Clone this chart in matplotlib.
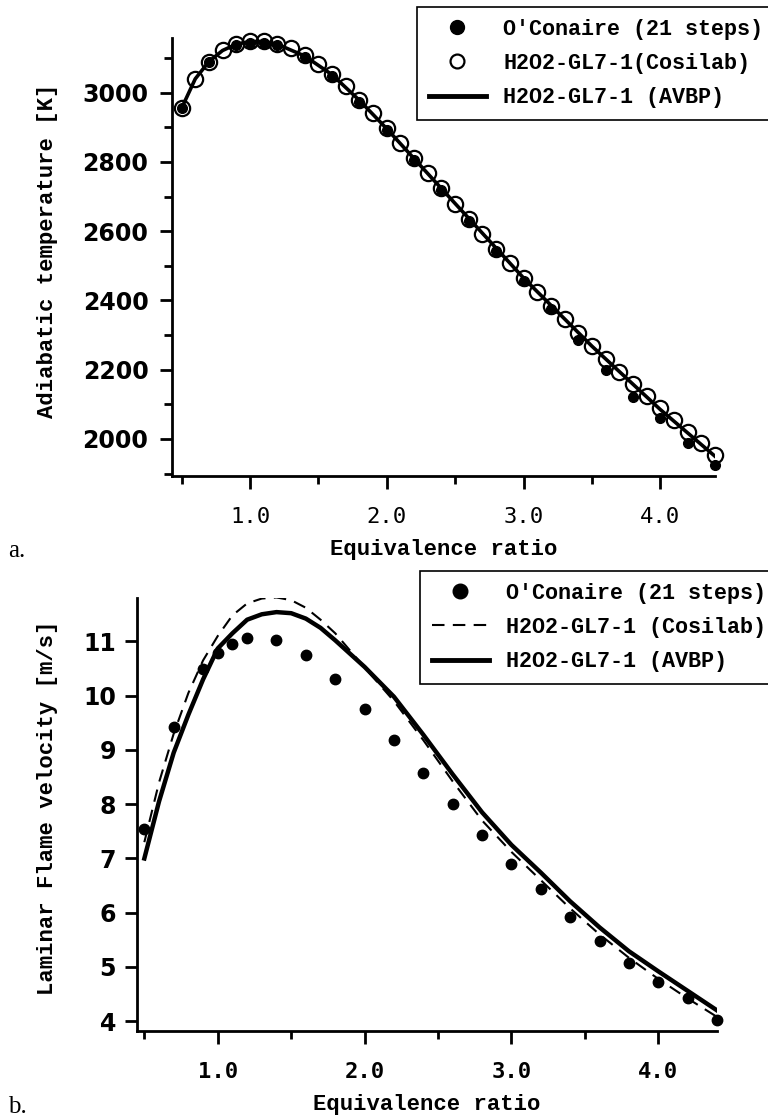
import numpy as np
import matplotlib
matplotlib.use("Agg")
import matplotlib.pyplot as plt
from matplotlib.lines import Line2D
from matplotlib.ticker import MultipleLocator, FormatStrFormatter

# --- panel a : adiabatic temperature ---
phi_cos = [0.5, 0.6, 0.7, 0.8, 0.9, 1.0, 1.1, 1.2, 1.3, 1.4, 1.5, 1.6, 1.7, 1.8, 1.9,
           2.0, 2.1, 2.2, 2.3, 2.4, 2.5, 2.6, 2.7, 2.8, 2.9, 3.0, 3.1, 3.2, 3.3, 3.4,
           3.5, 3.6, 3.7, 3.8, 3.9, 4.0, 4.1, 4.2, 4.3, 4.4]
T_cos = [2955, 3040, 3090, 3122, 3140, 3150, 3150, 3142, 3128, 3108, 3083, 3053, 3018,
         2980, 2940, 2898, 2855, 2812, 2768, 2724, 2680, 2636, 2592, 2549, 2507, 2465,
         2424, 2384, 2345, 2306, 2268, 2231, 2194, 2158, 2123, 2088, 2054, 2020, 1987, 1955]

phi_oc = [0.5, 0.7, 0.9, 1.0, 1.1, 1.2, 1.4, 1.6, 1.8, 2.0, 2.2, 2.4, 2.6, 2.8, 3.0,
          3.2, 3.4, 3.6, 3.8, 4.0, 4.2, 4.4]
T_oc = [2955, 3088, 3138, 3145, 3145, 3138, 3102, 3048, 2972, 2892, 2805, 2718, 2630,
        2542, 2455, 2375, 2285, 2200, 2120, 2060, 1988, 1925]

phi_avbp_T = [0.5, 0.6, 0.7, 0.8, 0.9, 1.0, 1.1, 1.2, 1.4, 1.6, 1.8, 2.0, 2.5, 3.0,
              3.5, 4.0, 4.4]
T_avbp = [2955, 3040, 3090, 3122, 3140, 3148, 3148, 3140, 3106, 3052, 2978, 2896, 2680,
          2465, 2268, 2085, 1950]

# --- panel b : laminar flame speed ---
S_oc = [7.54, 9.43, 10.5, 10.78, 10.96, 11.06, 11.02, 10.75, 10.30, 9.76, 9.18, 8.58,
        8.0, 7.43, 6.90, 6.44, 5.92, 5.48, 5.08, 4.72, 4.42, 4.02]

phi_line = [0.5, 0.6, 0.7, 0.8, 0.9, 1.0, 1.1, 1.2, 1.3, 1.4, 1.5, 1.6, 1.7, 1.8, 2.0,
            2.2, 2.4, 2.6, 2.8, 3.0, 3.2, 3.4, 3.6, 3.8, 4.0, 4.2, 4.4]
S_cos = [7.3, 8.4, 9.3, 10.05, 10.65, 11.1, 11.48, 11.70, 11.79, 11.81, 11.76, 11.62,
         11.40, 11.15, 10.52, 9.90, 9.18, 8.42, 7.70, 7.12, 6.60, 6.08, 5.60, 5.17,
         4.78, 4.42, 4.08]
S_avbp = [7.0, 8.05, 8.95, 9.65, 10.3, 10.87, 11.15, 11.40, 11.50, 11.54, 11.52, 11.42,
          11.25, 11.02, 10.53, 9.98, 9.28, 8.55, 7.85, 7.25, 6.74, 6.21, 5.73, 5.29,
          4.92, 4.56, 4.20]

lab_font = {"family": "Liberation Mono", "weight": "bold", "size": 16}

fig = plt.figure(figsize=(7.68, 11.19), dpi=100)
ax1 = fig.add_axes([172 / 768, 1 - 476 / 1119, 543 / 768, 438 / 1119])
ax2 = fig.add_axes([137 / 768, 1 - 1031 / 1119, 580 / 768, 433 / 1119])

ax1.plot(phi_avbp_T, T_avbp, color="black", lw=2.6, zorder=2)
ax1.plot(phi_oc, T_oc, "o", color="black", ms=7, zorder=3, clip_on=False)
ax1.plot(phi_cos, T_cos, "o", mfc="none", mec="black", mew=1.6, ms=11, zorder=4,
         clip_on=False)
ax1.set_xlim(0.43, 4.4)
ax1.set_ylim(1893, 3158)
ax1.yaxis.set_major_locator(MultipleLocator(200))
ax1.yaxis.set_minor_locator(MultipleLocator(100))

ax2.plot(phi_line, S_cos, color="black", lw=1.5, dashes=(6, 4))
ax2.plot(phi_line, S_avbp, "-", color="black", lw=3.2)
ax2.plot(phi_oc, S_oc, "o", color="black", ms=7.5, clip_on=False)
ax2.set_xlim(0.45, 4.4)
ax2.set_ylim(3.82, 11.8)
ax2.yaxis.set_major_locator(MultipleLocator(1))

for ax, xw, ypad in ((ax1, "normal", 8), (ax2, "bold", 6)):
    for s in ("top", "right"):
        ax.spines[s].set_visible(False)
    for s in ("left", "bottom"):
        ax.spines[s].set_linewidth(2)
    ax.xaxis.set_major_locator(MultipleLocator(1))
    ax.xaxis.set_minor_locator(MultipleLocator(0.5))
    ax.xaxis.set_major_formatter(FormatStrFormatter("%.1f"))
    ax.tick_params(which="major", length=9, width=2, direction="out")
    ax.tick_params(which="minor", length=6, width=2, direction="out")
    ax.tick_params(axis="x", pad=13)
    ax.tick_params(axis="y", pad=ypad)
    for t in ax.get_xticklabels():
        t.set_fontfamily("DejaVu Sans Mono")
        t.set_fontweight(xw)
        t.set_fontsize(16)
    for t in ax.get_yticklabels():
        t.set_fontfamily("DejaVu Sans")
        t.set_fontweight("bold")
        t.set_fontsize(17)
    ax.set_xlabel("Equivalence ratio", fontdict=lab_font, labelpad=9)

ax1.set_ylabel("Adiabatic temperature [K]", fontdict=lab_font)
ax1.yaxis.set_label_coords(-0.21, 0.515)
ax2.set_ylabel("Laminar Flame velocity [m/s]", fontdict=lab_font)
ax2.yaxis.set_label_coords(-0.136, 0.515)

leg_prop = {"family": "Liberation Mono", "weight": "bold", "size": 15.7}
leg_kw = dict(loc="upper left", bbox_transform=fig.transFigure, prop=leg_prop,
              fancybox=False, edgecolor="black", framealpha=1, handlelength=2.6,
              borderaxespad=0, labelspacing=0.6, borderpad=0.55)

h_top = [Line2D([], [], ls="none", marker="o", ms=10, color="black"),
         Line2D([], [], ls="none", marker="o", ms=10, mfc="white", mec="black", mew=1.6),
         Line2D([], [], color="black", lw=3.5)]
lg1 = ax1.legend(h_top, ["O'Conaire (21 steps)", "H2O2-GL7-1(Cosilab)",
                         "H2O2-GL7-1 (AVBP)"],
                 bbox_to_anchor=(417 / 768, 1 - 7 / 1119), **leg_kw)

h_bot = [Line2D([], [], ls="none", marker="o", ms=10.5, color="black"),
         Line2D([], [], color="black", lw=1.5, dashes=(6, 4)),
         Line2D([], [], color="black", lw=3.5)]
lg2 = ax2.legend(h_bot, ["O'Conaire (21 steps)", "H2O2-GL7-1 (Cosilab)",
                         "H2O2-GL7-1 (AVBP)"],
                 bbox_to_anchor=(420 / 768, 1 - 571 / 1119), **leg_kw)
for lg in (lg1, lg2):
    lg.get_frame().set_linewidth(1.2)

fig.text(8 / 768, 1 - 557 / 1119, "a.", family="Liberation Serif", fontsize=18)
fig.text(8 / 768, 1 - 1113 / 1119, "b.", family="Liberation Serif", fontsize=18)

fig.savefig("out.png", dpi=100)
